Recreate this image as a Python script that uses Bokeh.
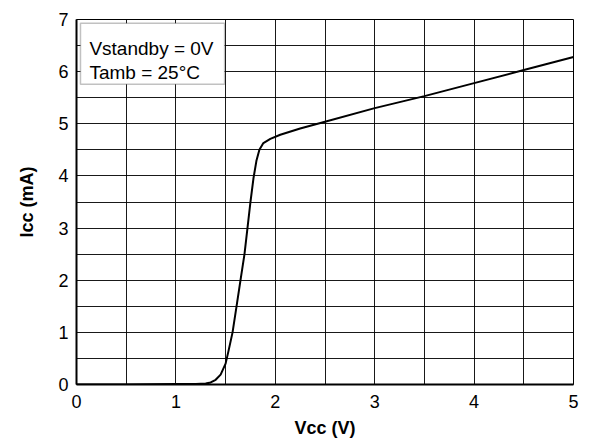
from bokeh.plotting import figure
from bokeh.models import SingleIntervalTicker, FixedTicker, Label, BoxAnnotation, Range1d
from bokeh.embed import file_html
from bokeh.resources import INLINE

# Data
vcc = [0.0, 0.5, 1.0, 1.2, 1.3, 1.35, 1.4, 1.45, 1.5, 1.53, 1.57, 1.61, 1.65, 1.69,
       1.72, 1.75, 1.78, 1.81, 1.84, 1.88, 1.95, 2.05, 2.25, 2.5, 3.0, 3.5, 4.0, 4.5, 5.0]
icc = [0.0, 0.0, 0.01, 0.01, 0.02, 0.04, 0.09, 0.19, 0.4, 0.65, 1.0, 1.5, 2.0, 2.5,
       3.0, 3.5, 3.95, 4.29, 4.5, 4.63, 4.71, 4.79, 4.91, 5.04, 5.3, 5.53, 5.78, 6.03, 6.28]
x_ticks = [0, 1, 2, 3, 4, 5]
y_ticks = [0, 1, 2, 3, 4, 5, 6, 7]
notes = ["Vstandby = 0V", "Tamb = 25°C"]

FONT = "Liberation Sans"

p = figure(width=581, height=440, output_backend="svg", toolbar_location=None,
           x_range=Range1d(0, 5), y_range=Range1d(0, 7),
           min_border_left=76, min_border_right=8, min_border_top=19, min_border_bottom=56)

p.line(vcc, icc, line_color="black", line_width=2)

for ax, ticks in ((p.xaxis, x_ticks), (p.yaxis, y_ticks)):
    ax.ticker = FixedTicker(ticks=ticks)
    ax.major_label_text_font = FONT
    ax.major_label_text_font_size = "18px"
    ax.major_label_text_color = "black"
    ax.axis_label_text_font = FONT
    ax.axis_label_text_font_size = "18px"
    ax.axis_label_text_font_style = "bold"
    ax.axis_label_text_color = "black"
    ax.major_tick_in = 0
    ax.major_tick_out = 0
    ax.minor_tick_in = 0
    ax.minor_tick_out = 0
    ax.axis_line_color = "black"
    ax.axis_line_width = 2

p.xaxis.axis_label = "Vcc (V)"
p.yaxis.axis_label = "Icc (mA)"
p.xaxis.major_label_standoff = 10
p.yaxis.major_label_standoff = 8
p.xaxis.axis_label_standoff = 7
p.yaxis.axis_label_standoff = 18

p.xgrid.ticker = SingleIntervalTicker(interval=0.5)
p.ygrid.ticker = SingleIntervalTicker(interval=0.5)
for g in (p.xgrid, p.ygrid):
    g.grid_line_color = "black"
    g.grid_line_width = 1
    g.grid_line_alpha = 0.9

p.outline_line_color = "black"
p.outline_line_width = 1
p.background_fill_color = "white"
p.border_fill_color = "white"

box = BoxAnnotation(left=0.04, right=1.49, bottom=5.76, top=6.93,
                    fill_color="white", fill_alpha=1.0,
                    line_color="#333333", line_width=1.5)
p.add_layout(box)

p.add_layout(Label(x=0.13, y=6.45, text=notes[0], text_font=FONT,
                   text_font_size="19px", text_color="black", text_baseline="alphabetic"))
p.add_layout(Label(x=0.13, y=5.99, text=notes[1], text_font=FONT,
                   text_font_size="19px", text_color="black", text_baseline="alphabetic"))

open("out.html", "w").write(file_html(p, INLINE))
